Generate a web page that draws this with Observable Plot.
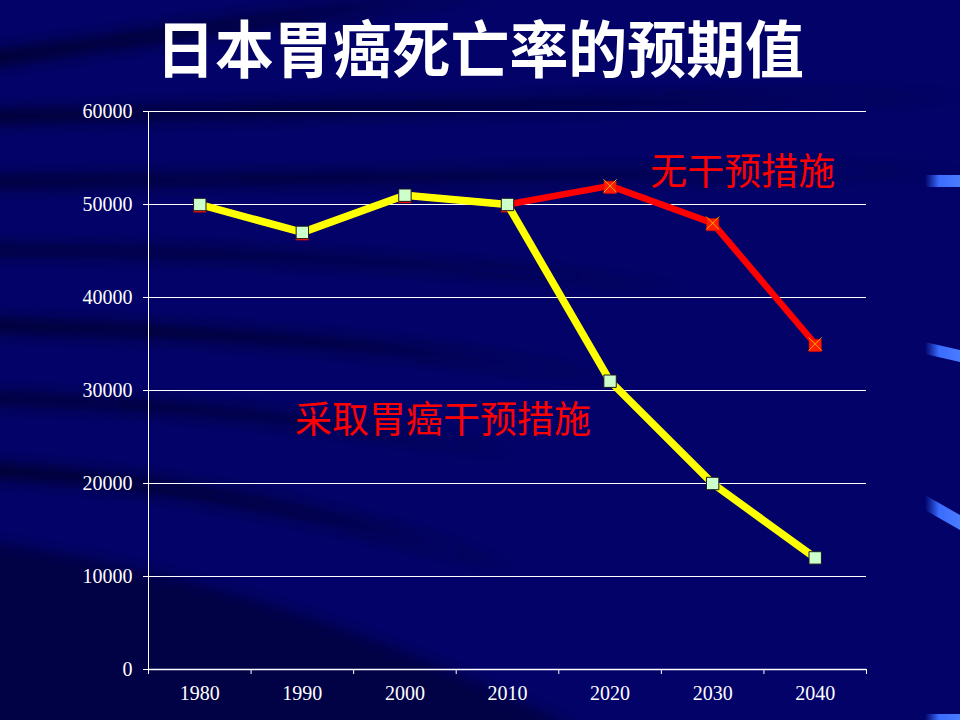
<!DOCTYPE html>
<html>
<head>
<meta charset="utf-8">
<script src="https://cdn.jsdelivr.net/npm/d3@7"></script>
<script src="https://cdn.jsdelivr.net/npm/@observablehq/plot@0.6"></script>
<style>
  html, body { margin: 0; padding: 0; }
  body { width: 960px; height: 720px; overflow: hidden; background: #020268; position: relative; }
  #bg { position: absolute; left: 0; top: 0; width: 960px; height: 720px; z-index: 0; }
  #title { position: relative; z-index: 1; height: 100px; line-height: 100px; text-align: center; color: #fff;
    font-family: "Noto Sans CJK SC", sans-serif; font-weight: 700; font-size: 62px; }
  #title span { display: inline-block; transform: scaleX(0.95) translateY(-4px); white-space: nowrap; }
  #chart { position: relative; z-index: 1; }
</style>
</head>
<body>
<svg id="bg" width="960" height="720" xmlns="http://www.w3.org/2000/svg">
  <defs>
    <filter id="blur" x="-20%" y="-50%" width="140%" height="200%"><feGaussianBlur stdDeviation="7"/></filter>
    <linearGradient id="bar" x1="0" x2="1"><stop offset="0" stop-color="#3366ff" stop-opacity="0"/><stop offset="0.4" stop-color="#3a6cff"/><stop offset="1" stop-color="#4a7cff"/></linearGradient>
    <linearGradient id="fadeR" x1="0" x2="1"><stop offset="0" stop-color="#000020" stop-opacity="0.8"/><stop offset="0.6" stop-color="#000020" stop-opacity="0.5"/><stop offset="1" stop-color="#000020" stop-opacity="0"/></linearGradient>
  </defs>
  <g filter="url(#blur)" fill="none" stroke="url(#fadeR)">
    <path d="M-20 60 C 100 45, 250 20, 500 -10" stroke-width="16"/>
    <path d="M-20 117 C 200 114, 500 108, 980 95" stroke-width="14"/>
    <path d="M-20 182 C 200 180, 500 178, 980 170" stroke-width="12"/>
    <path d="M-20 250 C 200 250, 450 262, 700 290" stroke-width="10"/>
    <path d="M-20 325 C 200 330, 420 345, 620 380" stroke-width="14"/>
    <path d="M-20 398 C 150 402, 330 418, 520 455" stroke-width="12"/>
    <path d="M-20 470 C 150 478, 330 510, 520 570" stroke-width="16"/>
  </g>
  <path d="M-20 540 C 120 560, 320 600, 580 730 L -20 730 Z" fill="#000025" fill-opacity="0.55" filter="url(#blur)"/>
  <rect x="925" y="175" width="35" height="12" fill="url(#bar)"/>
  <path d="M925 342 L960 350 L960 362 L925 354 Z" fill="url(#bar)"/>
  <path d="M925 495 L960 515 L960 530 L925 510 Z" fill="url(#bar)"/>
  <rect x="925" y="714" width="35" height="6" fill="url(#bar)"/>
</svg>
<div id="title"><span>日本胃癌死亡率的预期值</span></div>
<div id="chart"></div>
<script>
const years = ["1980", "1990", "2000", "2010", "2020", "2030", "2040"];
const noIntervention = [50000, 47000, 51000, 50000, 52000, 48000, 35000];
const withIntervention = [50000, 47000, 51000, 50000, 31000, 20000, 12000];
const yTicks = [0, 10000, 20000, 30000, 40000, 50000, 60000];
const labelTexts = ["无干预措施", "采取胃癌干预措施"];
const labelYears = ["2030", "2000"];
const labelValues = [53400, 26700];

const idx = years.map((_, i) => i);
const red = idx.map(i => ({i, v: noIntervention[i]}));
const yel = idx.map(i => ({i, v: withIntervention[i]}));
const bounds = d3.range(years.length + 1).map(k => k - 0.5);
const ann = labelTexts.map((t, k) => ({text: t, i: years.indexOf(labelYears[k]), value: labelValues[k]}));

const annStyle = {x: "i", y: "value", text: "text", fill: "#ff0000", fontSize: 37, fontFamily: "'Noto Sans CJK SC', sans-serif", textAnchor: "middle"};

const chart = Plot.plot({
  width: 960,
  height: 620,
  marginTop: 11,
  marginBottom: 51,
  marginLeft: 148,
  marginRight: 94,
  style: {background: "transparent", color: "#fff", fontFamily: "'Liberation Serif', serif", fontSize: "20px"},
  x: {type: "linear", domain: [-0.5, years.length - 0.5]},
  y: {domain: [0, 60000]},
  marks: [
    Plot.gridY(yTicks.filter(t => t > 0), {stroke: "#fff", strokeOpacity: 1, strokeWidth: 1}),
    Plot.axisY({ticks: yTicks, tickSize: 5, tickPadding: 11, tickFormat: d => String(d), stroke: "#fff", fill: "#fff", fontSize: 20, fontFamily: "'Liberation Serif', serif", label: null}),
    Plot.axisX({ticks: bounds, tickSize: 5, tickFormat: () => "", stroke: "#fff", label: null}),
    Plot.axisX({ticks: idx, tickSize: 0, tickPadding: 16, tickFormat: i => years[i], fill: "#fff", fontSize: 20, fontFamily: "'Liberation Serif', serif", label: null}),
    Plot.ruleX([-0.5], {stroke: "#fff", strokeWidth: 1}),
    Plot.ruleY([0], {stroke: "#fff", strokeWidth: 1.5}),
    Plot.line(red, {x: "i", y: "v", stroke: "#ff0000", strokeWidth: 6.5, strokeLinejoin: "miter"}),
    Plot.dot(red, {x: "i", y: "v", symbol: "square", r: 7, fill: "#ff1a00", stroke: "#cc0000", strokeWidth: 0.5, dy: 1.5}),
    Plot.dot(red.slice(4), {x: "i", y: "v", symbol: "times", r: 6, stroke: "#ffb000", strokeWidth: 1}),
    Plot.line(yel, {x: "i", y: "v", stroke: "#ffff00", strokeWidth: 7.5, strokeLinejoin: "miter"}),
    Plot.dot(yel, {x: "i", y: "v", symbol: "square", r: 7, fill: "#ccffcc", stroke: "#1a1a1a", strokeWidth: 1}),
    Plot.text(ann.slice(0, 1), {...annStyle, dx: 30}),
    Plot.text(ann.slice(1, 2), {...annStyle, dx: 38})
  ]
});
document.getElementById("chart").appendChild(chart);
</script>
</body>
</html>
